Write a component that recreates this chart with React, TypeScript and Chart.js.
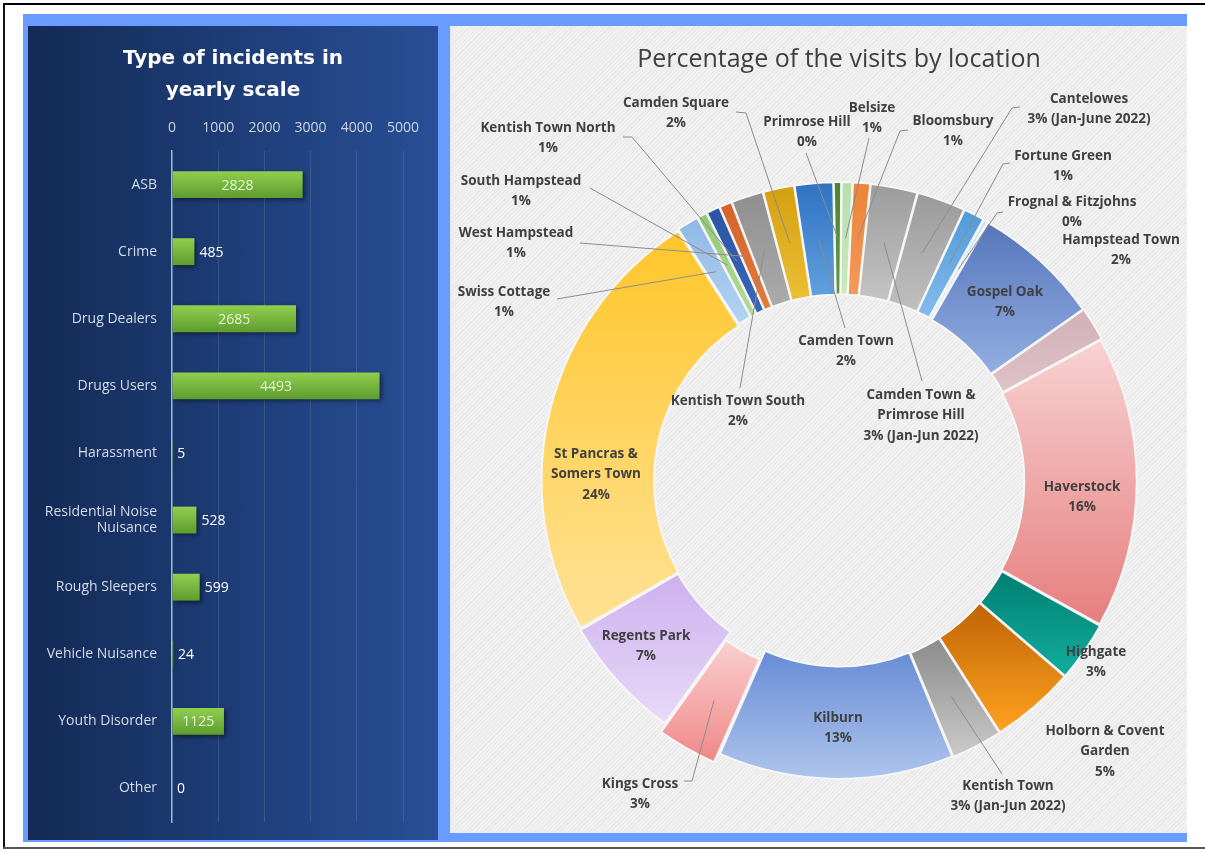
import React, { useEffect, useRef } from 'react';
import { Chart, registerables } from 'chart.js';

Chart.register(...registerables);
Chart.defaults.font.family = "'Open Sans', 'DejaVu Sans', sans-serif";

// ---------------- Left chart data ----------------
const INCIDENT_TITLE = ['Type of incidents in', 'yearly scale'];
const INCIDENT_TYPES: (string | string[])[] = [
  'ASB',
  'Crime',
  'Drug Dealers',
  'Drugs Users',
  'Harassment',
  ['Residential Noise', 'Nuisance'],
  'Rough Sleepers',
  'Vehicle Nuisance',
  'Youth Disorder',
  'Other',
];
const INCIDENT_COUNTS = [2828, 485, 2685, 4493, 5, 528, 599, 24, 1125, 0];
const INCIDENT_AXIS_MIN = 0;
const INCIDENT_AXIS_MAX = 5000;
const INCIDENT_AXIS_STEP = 1000;

// ---------------- Right chart data ----------------
const VISITS_TITLE = 'Percentage of the visits by location';
const LOCATIONS = [
  'Swiss Cottage',
  'South Hampstead',
  'Kentish Town North',
  'West Hampstead',
  'Kentish Town South',
  'Camden Square',
  'Camden Town',
  'Primrose Hill',
  'Belsize',
  'Bloomsbury',
  'Camden Town & Primrose Hill',
  'Cantelowes',
  'Fortune Green',
  'Frognal & Fitzjohns',
  'Gospel Oak',
  'Hampstead Town',
  'Haverstock',
  'Highgate',
  'Holborn & Covent Garden',
  'Kentish Town',
  'Kilburn',
  'Kings Cross',
  'Regents Park',
  'St Pancras & Somers Town',
];
const VISIT_SHARE = [
  1.2, 0.55, 0.75, 0.7, 1.75, 1.7, 2.1, 0.42, 0.6, 0.95, 2.55, 2.65, 1.15, 0.25,
  6.95, 1.85, 15.9, 3.3, 4.6, 2.8, 12.8, 3.3, 6.8, 24.2,
];
const PERIOD_NOTES = [
  '', '', '', '', '', '', '', '', '', '',
  ' (Jan-Jun 2022)', ' (Jan-June 2022)', '', '', '', '', '', '', '',
  ' (Jan-Jun 2022)', '', '', '', '',
];

// ---------------- Styles / layout (not data) ----------------
const DONUT_ROTATION = -32.6;
const DONUT_CUTOUT = 0.62;
const MAX_OFFSET = 26;

const LOCATION_FILLS: [string, string][] = [
  ['#8fb9e6', '#b4d3f2'], // Swiss Cottage
  ['#93c977', '#b3db9c'], // South Hampstead
  ['#2a55a3', '#3a68b8'], // Kentish Town North
  ['#d4632a', '#e47c3e'], // West Hampstead
  ['#8f8f8f', '#ababab'], // Kentish Town South
  ['#d4a010', '#ecc035'], // Camden Square
  ['#2f73c2', '#62a0de'], // Camden Town
  ['#4c8533', '#5c9840'], // Primrose Hill
  ['#b7deaa', '#cbe8c0'], // Belsize
  ['#ec8339', '#f39a58'], // Bloomsbury
  ['#9c9c9c', '#c4c4c4'], // Camden Town & Primrose Hill
  ['#9a9a9a', '#c0c0c0'], // Cantelowes
  ['#4f9ad9', '#86bceb'], // Fortune Green
  ['#cfe2f5', '#dcebf8'], // Frognal & Fitzjohns
  ['#5676bb', '#93aee2'], // Gospel Oak
  ['#d3b1b8', '#dcc2c7'], // Hampstead Town
  ['#f8d2d2', '#e67e7e'], // Haverstock
  ['#007f72', '#12ad9c'], // Highgate
  ['#bf6306', '#ffa21f'], // Holborn & Covent Garden
  ['#8a8a8a', '#cacaca'], // Kentish Town
  ['#678cd5', '#aec4ec'], // Kilburn
  ['#fbd2d2', '#f08a8a'], // Kings Cross
  ['#cdb0ee', '#e7daf7'], // Regents Park
  ['#ffc62a', '#ffe296'], // St Pancras & Somers Town
];

const NAME_LINES: Record<string, string[]> = {
  'Camden Town & Primrose Hill': ['Camden Town &', 'Primrose Hill'],
  'Holborn & Covent Garden': ['Holborn & Covent', 'Garden'],
  'St Pancras & Somers Town': ['St Pancras &', 'Somers Town'],
};

// Page-coordinate placement of the data labels and the start of their leader lines
const LABEL_LAYOUT: Record<string, { x: number; y: number; leader?: [number, number][] }> = {
  'Swiss Cottage': { x: 504, y: 292, leader: [[557, 299]] },
  'South Hampstead': { x: 521, y: 181, leader: [[590, 188]] },
  'Kentish Town North': { x: 548, y: 128, leader: [[623, 137], [632, 137]] },
  'West Hampstead': { x: 516, y: 233, leader: [[580, 243]] },
  'Kentish Town South': { x: 738, y: 401, leader: [[740, 388]] },
  'Camden Square': { x: 676, y: 103, leader: [[736, 112], [746, 113]] },
  'Camden Town': { x: 846, y: 341, leader: [[845, 328]] },
  'Primrose Hill': { x: 807, y: 122, leader: [[806, 153]] },
  'Belsize': { x: 872, y: 108, leader: [[869, 138]] },
  'Bloomsbury': { x: 953, y: 121, leader: [[908, 130], [900, 131]] },
  'Camden Town & Primrose Hill': { x: 921, y: 395, leader: [[922, 381]] },
  'Cantelowes': { x: 1089, y: 99, leader: [[1020, 107], [1012, 108]] },
  'Fortune Green': { x: 1063, y: 156, leader: [[1010, 163], [1003, 164]] },
  'Frognal & Fitzjohns': { x: 1072, y: 202, leader: [[1003, 212], [997, 213]] },
  'Gospel Oak': { x: 1005, y: 292 },
  'Hampstead Town': { x: 1121, y: 240 },
  'Haverstock': { x: 1082, y: 487 },
  'Highgate': { x: 1096, y: 652 },
  'Holborn & Covent Garden': { x: 1105, y: 731 },
  'Kentish Town': { x: 1008, y: 786, leader: [[1002, 774]] },
  'Kilburn': { x: 838, y: 718 },
  'Kings Cross': { x: 640, y: 784, leader: [[684, 781], [692, 781]] },
  'Regents Park': { x: 646, y: 636 },
  'St Pancras & Somers Town': { x: 596, y: 454 },
};

const LEFT_PANEL = { x: 28, y: 26, w: 410, h: 814 };
const RIGHT_PANEL = { x: 450, y: 26, w: 737, h: 807 };

// ---------------- Plugins ----------------
const barShadow = {
  id: 'barShadow',
  beforeDatasetDraw(chart: any) {
    const ctx = chart.ctx;
    ctx.save();
    ctx.shadowColor = 'rgba(0,0,0,0.45)';
    ctx.shadowBlur = 4;
    ctx.shadowOffsetX = 2;
    ctx.shadowOffsetY = 2;
  },
  afterDatasetDraw(chart: any) {
    chart.ctx.restore();
  },
};

const barValueLabels = {
  id: 'barValueLabels',
  afterDatasetsDraw(chart: any) {
    const ctx = chart.ctx;
    const meta = chart.getDatasetMeta(0);
    ctx.save();
    ctx.font = "14px 'Open Sans'";
    ctx.textBaseline = 'middle';
    meta.data.forEach((bar: any, i: number) => {
      const txt = String(INCIDENT_COUNTS[i]);
      const w = ctx.measureText(txt).width;
      const len = bar.x - bar.base;
      if (len > w + 12) {
        ctx.textAlign = 'center';
        ctx.fillStyle = '#e6f3d6';
        ctx.fillText(txt, (bar.x + bar.base) / 2, bar.y + 1);
      } else {
        ctx.textAlign = 'left';
        ctx.fillStyle = '#ffffff';
        ctx.fillText(txt, bar.x + 5, bar.y + 1);
      }
    });
    ctx.restore();
  },
};

const doughnutLabels = {
  id: 'doughnutLabels',
  afterDatasetsDraw(chart: any) {
    const ctx = chart.ctx;
    const meta = chart.getDatasetMeta(0);
    const total = VISIT_SHARE.reduce((a, b) => a + b, 0);
    ctx.save();
    ctx.strokeStyle = '#8c8c8c';
    ctx.lineWidth = 1;
    meta.data.forEach((arc: any, i: number) => {
      const lay = LABEL_LAYOUT[LOCATIONS[i]];
      if (!lay || !lay.leader) return;
      const p = arc.getCenterPoint();
      ctx.beginPath();
      lay.leader.forEach(([x, y], k) => {
        const px = x - RIGHT_PANEL.x;
        const py = y - RIGHT_PANEL.y;
        if (k === 0) ctx.moveTo(px, py);
        else ctx.lineTo(px, py);
      });
      ctx.lineTo(p.x, p.y);
      ctx.stroke();
    });
    ctx.font = "bold 13.5px 'Open Sans'";
    ctx.textAlign = 'center';
    ctx.textBaseline = 'middle';
    ctx.fillStyle = '#404040';
    meta.data.forEach((_arc: any, i: number) => {
      const name = LOCATIONS[i];
      const lay = LABEL_LAYOUT[name];
      if (!lay) return;
      const pct = Math.round((VISIT_SHARE[i] / total) * 100) + '%' + PERIOD_NOTES[i];
      const lines = [...(NAME_LINES[name] || [name]), pct];
      lines.forEach((line, k) => {
        ctx.fillText(line, lay.x - RIGHT_PANEL.x, lay.y - RIGHT_PANEL.y + k * 20.5);
      });
    });
    ctx.restore();
  },
};

function sliceFill(c: any) {
  const chart = c.chart;
  const i = c.dataIndex;
  const pair = LOCATION_FILLS[i] || ['#999999', '#999999'];
  const area = chart.chartArea;
  if (!area) return pair[0];
  const total = VISIT_SHARE.reduce((a, b) => a + b, 0);
  let before = 0;
  for (let k = 0; k < i; k++) before += VISIT_SHARE[k];
  const a0 = -Math.PI / 2 + (DONUT_ROTATION * Math.PI) / 180 + (before / total) * Math.PI * 2;
  const a1 = a0 + (VISIT_SHARE[i] / total) * Math.PI * 2;
  const cy = (area.top + area.bottom) / 2;
  const R = (Math.min(area.width, area.height) - MAX_OFFSET - 2) / 2;
  const r = R * DONUT_CUTOUT;
  let ymin = Infinity;
  let ymax = -Infinity;
  for (let s = 0; s <= 16; s++) {
    const a = a0 + ((a1 - a0) * s) / 16;
    for (const rr of [r, R]) {
      const y = cy + Math.sin(a) * rr;
      ymin = Math.min(ymin, y);
      ymax = Math.max(ymax, y);
    }
  }
  if (ymax - ymin < 1) ymax = ymin + 1;
  const g = chart.ctx.createLinearGradient(0, ymin, 0, ymax);
  g.addColorStop(0, pair[0]);
  g.addColorStop(1, pair[1]);
  return g;
}

export default function App() {
  const barRef = useRef<HTMLCanvasElement>(null);
  const donutRef = useRef<HTMLCanvasElement>(null);

  useEffect(() => {
    document.body.style.margin = '0';

    const bar = new Chart(barRef.current as HTMLCanvasElement, {
      type: 'bar',
      data: {
        labels: INCIDENT_TYPES,
        datasets: [
          {
            data: INCIDENT_COUNTS,
            backgroundColor: (c: any) => {
              const chart = c.chart;
              const ys = chart.scales && chart.scales.y;
              if (!ys || !chart.chartArea) return '#72b33f';
              const yc = ys.getPixelForValue(c.dataIndex);
              const g = chart.ctx.createLinearGradient(0, yc - 14, 0, yc + 14);
              g.addColorStop(0, '#92d050');
              g.addColorStop(1, '#5c9b2e');
              return g;
            },
            borderWidth: 0,
            categoryPercentage: 1,
            barPercentage: 0.4,
          },
        ],
      },
      options: {
        indexAxis: 'y',
        animation: false,
        responsive: false,
        layout: { padding: { top: 17, left: 0, right: 0, bottom: 18 } },
        plugins: {
          legend: { display: false },
          tooltip: { enabled: false },
          title: {
            display: true,
            text: INCIDENT_TITLE,
            color: '#ffffff',
            font: { family: "'DejaVu Sans'", size: 20, weight: 'bold', lineHeight: 1.6 },
            padding: { top: 0, bottom: 8 },
          },
        },
        scales: {
          x: {
            position: 'top',
            min: INCIDENT_AXIS_MIN,
            max: INCIDENT_AXIS_MAX,
            ticks: {
              stepSize: INCIDENT_AXIS_STEP,
              color: '#cdd5e5',
              font: { size: 14 },
              padding: 15,
              callback: (v: any) => String(v),
            },
            grid: {
              drawTicks: false,
              color: (c: any) => (c.tick && c.tick.value === 0 ? 'rgba(0,0,0,0)' : 'rgba(255,255,255,0.12)'),
            },
            border: { display: false },
            afterFit: (s: any) => {
              s.height = 36;
            },
          },
          y: {
            ticks: { color: '#d6dce8', font: { size: 14 }, padding: 15 },
            grid: { display: false, drawTicks: false },
            border: { display: true, color: 'rgba(205,214,230,0.8)', width: 1.5 },
            afterFit: (s: any) => {
              s.width = 144;
              s.paddingTop = 0;
              s.paddingBottom = 0;
            },
          },
          spacer: {
            type: 'linear',
            position: 'right',
            display: true,
            ticks: { display: false },
            grid: { display: false, drawTicks: false },
            border: { display: false },
            afterFit: (s: any) => {
              s.width = 35;
              s.paddingTop = 0;
              s.paddingBottom = 0;
            },
          },
        },
      } as any,
      plugins: [barShadow, barValueLabels],
    });

    const donut = new Chart(donutRef.current as HTMLCanvasElement, {
      type: 'doughnut',
      data: {
        labels: LOCATIONS,
        datasets: [
          {
            data: VISIT_SHARE,
            backgroundColor: sliceFill,
            borderColor: '#f6f6f6',
            borderWidth: 2,
            offset: (c: any) => (LOCATIONS[c.dataIndex] === 'Kings Cross' ? MAX_OFFSET : 6),
          },
        ],
      },
      options: {
        animation: false,
        responsive: false,
        rotation: DONUT_ROTATION,
        cutout: DONUT_CUTOUT * 100 + '%',
        layout: { padding: { top: 19, left: 79, right: 38, bottom: 42 } },
        plugins: {
          legend: { display: false },
          tooltip: { enabled: false },
          title: {
            display: true,
            text: VISITS_TITLE,
            color: '#404040',
            font: { size: 25, weight: 'normal', lineHeight: 1.2 },
            padding: { top: 0, bottom: 96 },
          },
        },
      } as any,
      plugins: [doughnutLabels],
    });

    return () => {
      bar.destroy();
      donut.destroy();
    };
  }, []);

  const abs = (x: number, y: number, w: number, h: number): React.CSSProperties => ({
    position: 'absolute',
    left: x,
    top: y,
    width: w,
    height: h,
  });

  return (
    <div style={{ ...abs(0, 0, 1205, 852), background: '#ffffff', overflow: 'hidden' }}>
      <div style={{ ...abs(3, 3, 1202, 2), background: '#000' }} />
      <div style={{ ...abs(3, 3, 2, 845), background: '#111' }} />
      <div style={{ ...abs(3, 847, 1202, 2), background: '#555' }} />
      <div style={{ ...abs(23, 14, 1164, 828), background: '#6a9bff' }} />
      <div
        style={{
          ...abs(LEFT_PANEL.x, LEFT_PANEL.y, LEFT_PANEL.w, LEFT_PANEL.h),
          background: 'linear-gradient(90deg, #132a55 0%, #1d3b74 45%, #284f96 100%)',
        }}
      >
        <canvas ref={barRef} width={LEFT_PANEL.w} height={LEFT_PANEL.h} style={{ display: 'block' }} />
      </div>
      <div
        style={{
          ...abs(RIGHT_PANEL.x, RIGHT_PANEL.y, RIGHT_PANEL.w, RIGHT_PANEL.h),
          background:
            'repeating-linear-gradient(135deg, #f1f1f1 0px, #f1f1f1 2px, #e8e8e8 2px, #e8e8e8 3px)',
          boxShadow: 'inset 2px 0 0 #e6eefc, inset 0 -2px 0 #e6eefc',
        }}
      >
        <canvas ref={donutRef} width={RIGHT_PANEL.w} height={RIGHT_PANEL.h} style={{ display: 'block' }} />
      </div>
    </div>
  );
}
